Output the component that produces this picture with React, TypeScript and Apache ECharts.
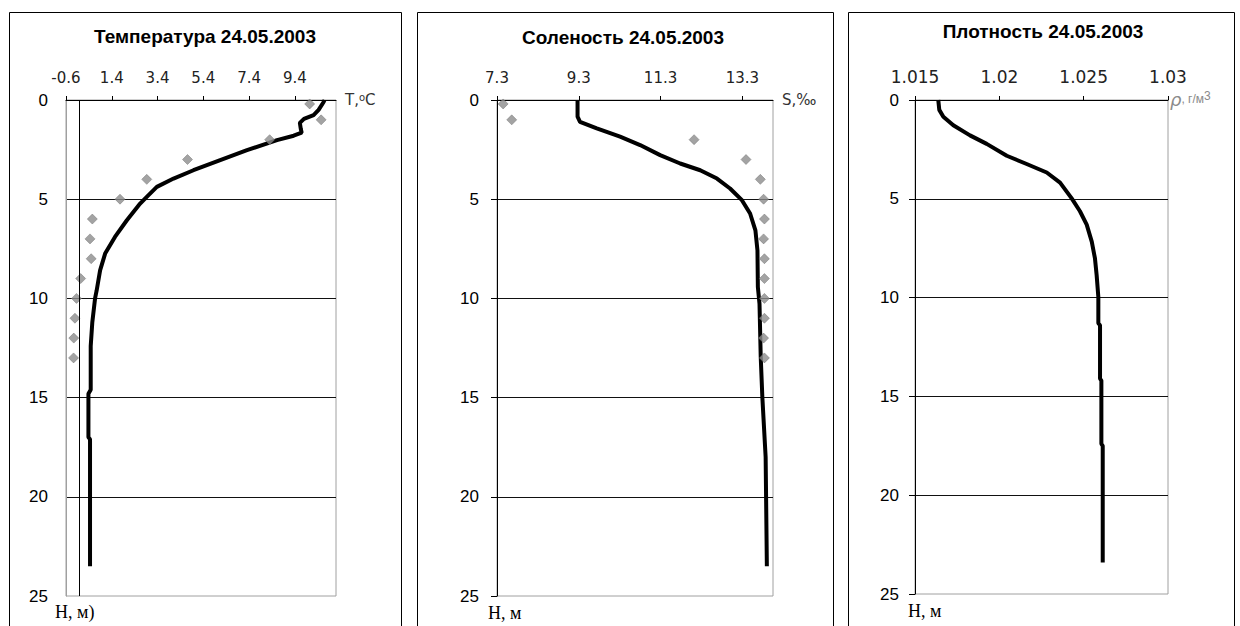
import React, { useEffect, useRef } from "react";
import * as echarts from "echarts";

// ---------- tick labels ----------
const tempTicks = [-0.6, 1.4, 3.4, 5.4, 7.4, 9.4];
const salTicks = [7.3, 9.3, 11.3, 13.3];
const densTicks = [1.015, 1.02, 1.025, 1.03];

// ---------- titles ----------
const titles = ["Температура 24.05.2003", "Соленость 24.05.2003", "Плотность 24.05.2003"];

// ---------- temperature ----------
const tempLineDepth = [0, 0.1, 0.5, 0.76, 0.95, 1.15, 1.45, 1.65, 1.8, 2.02, 2.53, 3.03, 3.54, 3.96, 4.38, 4.88, 5.22, 6.06, 6.9, 7.74, 8.59, 9.6, 10.0, 11.2, 12.4, 14.6, 14.8, 17.0, 17.1, 23.5];
const tempLineValue = [10.7, 10.66, 10.44, 10.22, 9.8, 9.62, 9.66, 9.7, 9.35, 8.62, 7.31, 6.14, 4.97, 4.1, 3.37, 2.93, 2.64, 2.06, 1.54, 1.11, 0.89, 0.74, 0.67, 0.55, 0.48, 0.48, 0.38, 0.38, 0.45, 0.45];
const tempObsDepth = [0.2, 1, 2, 3, 4, 5, 6, 7, 8, 9, 10, 11, 12, 13];
const tempObsValue = [10.05, 10.55, 8.3, 4.71, 2.93, 1.76, 0.55, 0.45, 0.5, 0.04, -0.14, -0.21, -0.26, -0.27];

// ---------- salinity ----------
const salLineDepth = [0, 0.84, 1.1, 1.43, 1.85, 2.27, 2.78, 3.2, 3.54, 3.96, 4.46, 5.05, 5.72, 6.57, 7.58, 9.43, 10.27, 12.96, 15, 18, 23.5];
const salLineValue = [9.27, 9.27, 9.33, 9.74, 10.31, 10.8, 11.29, 11.78, 12.27, 12.68, 13.0, 13.29, 13.49, 13.62, 13.67, 13.68, 13.72, 13.75, 13.79, 13.87, 13.9];
const salObsDepth = [0.2, 1, 2, 3, 4, 5, 6, 7, 8, 9, 10, 11, 12, 13];
const salObsValue = [7.45, 7.66, 12.12, 13.39, 13.74, 13.82, 13.84, 13.82, 13.84, 13.84, 13.84, 13.84, 13.82, 13.84];

// ---------- density ----------
const densLineDepth = [0, 0.5, 0.85, 1.28, 1.79, 2.22, 2.82, 3.24, 3.67, 4.18, 4.98, 5.63, 6.31, 7.17, 8.02, 8.87, 9.98, 11.3, 11.4, 14.1, 14.2, 17.4, 17.5, 23.4];
const densLineValue = [1.01638, 1.01644, 1.01668, 1.01727, 1.01826, 1.01925, 1.02044, 1.02162, 1.02281, 1.0236, 1.02429, 1.02478, 1.02518, 1.02548, 1.02567, 1.02577, 1.02587, 1.02587, 1.02597, 1.02597, 1.02605, 1.02605, 1.02613, 1.02613];

const zip = (vals: number[], depths: number[]) => vals.map((v, i) => [v, depths[i]]);

export default function App() {
  const ref = useRef<HTMLDivElement>(null);
  useEffect(() => {
    if (!ref.current) return;
    const chart = echarts.init(ref.current, null, { renderer: "svg" });

    const grids = [
      { left: 66, top: 100, width: 270, height: 496 },
      { left: 497, top: 100, width: 276, height: 496 },
      { left: 915, top: 100, width: 253, height: 494 },
    ].map((g) => ({ ...g, show: true, borderColor: "#a0a0a0", borderWidth: 1, backgroundColor: "transparent" }));

    const xAx = (gridIndex: number, min: number, max: number, ticks: number[], fontSize: number) => ({
      type: "value",
      gridIndex,
      position: "top",
      min,
      max,
      axisLine: { show: true, onZero: false, lineStyle: { color: "#000", width: 1 } },
      axisTick: { show: true, inside: false, length: 4, customValues: ticks, lineStyle: { color: "#000", width: 1 } },
      axisLabel: {
        customValues: ticks,
        margin: 15,
        fontFamily: "DejaVu Sans",
        fontSize,
        color: "#222",
        formatter: (v: number) => String(v),
      },
      splitLine: { show: false },
    });

    const yAx = (gridIndex: number, first: boolean, margin: number) => ({
      type: "value",
      gridIndex,
      inverse: true,
      min: 0,
      max: 25,
      interval: 5,
      axisLine: { show: true, onZero: false, lineStyle: { color: first ? "#a0a0a0" : "#000", width: 1 } },
      axisTick: { show: !first, inside: false, length: 6, lineStyle: { color: "#000", width: 1 } },
      axisLabel: { margin, fontFamily: "Liberation Sans", fontSize: 17, color: "#000" },
      splitLine: { show: true, showMinLine: false, showMaxLine: false, lineStyle: { color: "#111", width: 1 } },
    });

    const lineSeries = (i: number, data: number[][], extra: any = {}) => ({
      type: "line",
      xAxisIndex: i,
      yAxisIndex: i,
      data,
      symbol: "none",
      showSymbol: false,
      lineStyle: { color: "#000", width: 4 },
      z: 3,
      ...extra,
    });
    const scatterSeries = (i: number, data: number[][]) => ({
      type: "scatter",
      xAxisIndex: i,
      yAxisIndex: i,
      data,
      symbol: "diamond",
      symbolSize: 10,
      itemStyle: { color: "#8c8c8c", borderColor: "#707070", borderWidth: 0.6 },
      z: 4,
    });

    const panelRect = (x: number, w: number) => ({
      type: "rect",
      silent: true,
      shape: { x, y: 12.5, width: w, height: 700 },
      style: { fill: "none", stroke: "#000", lineWidth: 1 },
    });
    const txt = (x: number, y: number, text: string, style: any) => ({
      type: "text",
      silent: true,
      x,
      y,
      style: { text, ...style },
    });
    const titleStyle = {
      fontFamily: "Liberation Sans",
      fontWeight: "bold",
      fontSize: 19,
      fill: "#000",
      align: "center",
      textAlign: "center",
      verticalAlign: "middle",
      textVerticalAlign: "middle",
    };
    const hStyle = {
      fontFamily: "Liberation Serif",
      fontSize: 18,
      fill: "#000",
      align: "left",
      textAlign: "left",
      verticalAlign: "middle",
      textVerticalAlign: "middle",
    };
    const unitBase = { align: "left", textAlign: "left", verticalAlign: "middle", textVerticalAlign: "middle" };

    chart.setOption({
      animation: false,
      backgroundColor: "#fff",
      grid: grids,
      xAxis: [
        xAx(0, -0.6, 11.2, tempTicks, 15),
        xAx(1, 7.3, 14.05, salTicks, 15),
        xAx(2, 1.015, 1.03, densTicks, 17),
      ],
      yAxis: [yAx(0, true, 18), yAx(1, false, 18), yAx(2, false, 16)],
      series: [
        lineSeries(0, zip(tempLineValue, tempLineDepth), {
          markLine: {
            silent: true,
            symbol: "none",
            label: { show: false },
            lineStyle: { color: "#000", width: 1, type: "solid" },
            data: [{ xAxis: 0 }],
          },
        }),
        scatterSeries(0, zip(tempObsValue, tempObsDepth)),
        lineSeries(1, zip(salLineValue, salLineDepth)),
        scatterSeries(1, zip(salObsValue, salObsDepth)),
        lineSeries(2, zip(densLineValue, densLineDepth)),
      ],
      graphic: [
        panelRect(9.5, 392),
        panelRect(417.5, 416),
        panelRect(848.5, 386),
        txt(205, 36, titles[0], titleStyle),
        txt(623, 37, titles[1], titleStyle),
        txt(1043, 31, titles[2], titleStyle),
        txt(345, 100, "{a|T,}{s|o}{a|C}", {
          ...unitBase,
          rich: {
            a: { fontFamily: "DejaVu Sans", fontSize: 15, fill: "#333", color: "#333" },
            s: { fontFamily: "DejaVu Sans", fontSize: 10, fill: "#333", color: "#333", verticalAlign: "top" },
          },
        }),
        txt(782, 100, "S,‰", { ...unitBase, fontFamily: "DejaVu Sans", fontSize: 15, fill: "#333" }),
        txt(1170, 99, "{r|ρ}{a|, г/м}{s|3}", {
          ...unitBase,
          rich: {
            r: { fontFamily: "DejaVu Sans", fontStyle: "italic", fontSize: 18, fill: "#8a8a8a", color: "#8a8a8a" },
            a: { fontFamily: "Liberation Sans", fontSize: 12, fill: "#8a8a8a", color: "#8a8a8a" },
            s: { fontFamily: "Liberation Sans", fontSize: 12, fill: "#8a8a8a", color: "#8a8a8a", verticalAlign: "top" },
          },
        }),
        txt(55, 612, "H, м)", hStyle),
        txt(488, 613, "H, м", hStyle),
        txt(908, 611, "H, м", hStyle),
      ],
    });
    return () => chart.dispose();
  }, []);
  return (
    <div
      ref={ref}
      style={{ position: "fixed", left: 0, top: 0, width: 1240, height: 626, background: "#fff" }}
    />
  );
}
